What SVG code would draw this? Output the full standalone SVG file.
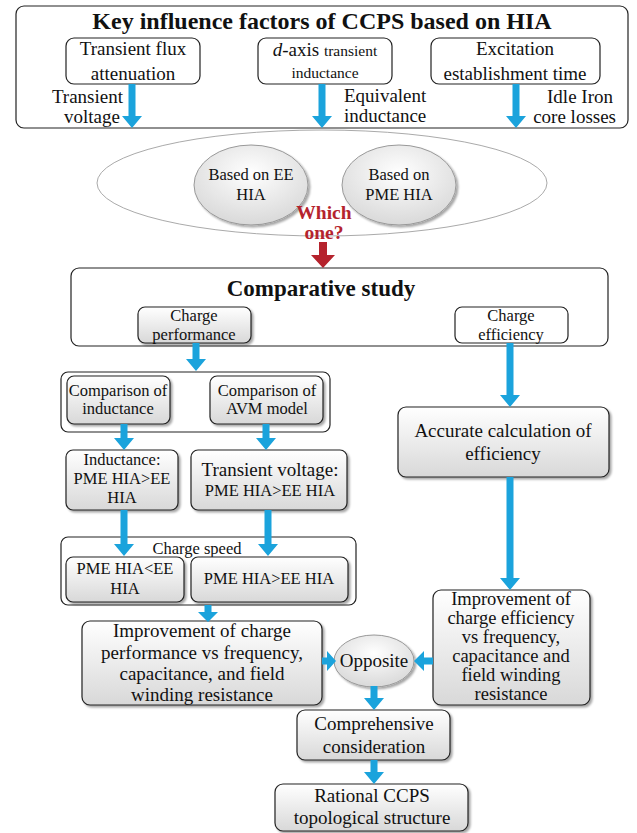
<svg xmlns="http://www.w3.org/2000/svg" width="637" height="833" viewBox="0 0 637 833" font-family="'Liberation Serif','Times New Roman',serif">
<defs>
<linearGradient id="g" x1="0" y1="0" x2="0" y2="1"><stop offset="0" stop-color="#ffffff"/><stop offset="1" stop-color="#d8d8d8"/></linearGradient>
<radialGradient id="ge" cx="0.5" cy="0.35" r="0.7"><stop offset="0" stop-color="#ffffff"/><stop offset="1" stop-color="#d6d6d6"/></radialGradient>
<filter id="sh" x="-10%" y="-10%" width="130%" height="130%"><feDropShadow dx="2" dy="2" stdDeviation="1.2" flood-color="#000" flood-opacity="0.35"/></filter>
</defs>
<style>
text{font-family:"Liberation Serif","Times New Roman",serif;fill:#111;text-anchor:middle}
.b{font-size:19px}.m{font-size:16.5px}.s{font-size:15.5px}
.title{font-size:24px;font-weight:bold}
.st{text-anchor:start}.en{text-anchor:end}
.box{fill:#fff;stroke:#222;stroke-width:1.2}
.gbox{fill:url(#g);stroke:#222;stroke-width:1.2;filter:url(#sh)}
.ell{fill:url(#ge);stroke:#999;stroke-width:1}
.arr{fill:#1ba3dc}
.red{fill:#b5232d}
</style>
<rect width="637" height="833" fill="#fff"/>

<g id="top-panel">
<rect class="box" x="16" y="6" width="612" height="122" rx="8"/>
<text class="title" x="322" y="29">Key influence factors of CCPS based on HIA</text>
</g>
<g id="n-flux">
<rect class="box" x="66" y="38" width="134" height="46" rx="8"/>
<text class="b" x="133" y="55">Transient flux</text>
<text class="b" x="133" y="80">attenuation</text>
</g>
<g id="n-daxis">
<rect class="box" x="258" y="38" width="134" height="46" rx="8"/>
<text x="325" y="56"><tspan class="b" font-style="italic">d</tspan><tspan class="b">-axis </tspan><tspan class="s">transient</tspan></text>
<text class="s" x="325" y="78">inductance</text>
</g>
<g id="n-excitation">
<rect class="box" x="431" y="38" width="169" height="46" rx="8"/>
<text class="b" x="515" y="55">Excitation</text>
<text class="b" x="515" y="80">establishment time</text>
</g>
<g id="lbl-top">
<text class="b en" x="123" y="103">Transient</text>
<text class="b en" x="120" y="123">voltage</text>
<text class="b st" x="344" y="102">Equivalent</text>
<text class="b st" x="344" y="122">inductance</text>
<text class="b en" x="613" y="103">Idle Iron</text>
<text class="b en" x="616" y="123">core losses</text>
</g>

<g id="n-hia">
<ellipse cx="322" cy="183" rx="225" ry="53" fill="#fff" stroke="#aaa" stroke-width="1"/>
</g>
<g id="n-ee">
<ellipse class="ell" cx="251" cy="185" rx="57" ry="40" filter="url(#sh)"/>
<text class="m" x="251" y="180">Based on EE</text>
<text class="m" x="251" y="200">HIA</text>
</g>
<g id="n-pme">
<ellipse class="ell" cx="399" cy="185" rx="57" ry="40" filter="url(#sh)"/>
<text class="m" x="399" y="180">Based on</text>
<text class="m" x="399" y="200">PME HIA</text>
</g>
<g id="lbl-which">
<text x="324" y="219" style="font-size:19.5px;font-weight:bold;fill:#b5232d"><tspan x="324" y="219">Which</tspan><tspan x="324" y="239">one?</tspan></text>
</g>

<g id="n-comparative">
<rect class="box" x="71" y="268" width="537" height="78" rx="8"/>
<text class="title" x="321" y="296" style="font-size:23px">Comparative study</text>
</g>
<g id="n-perf">
<rect class="gbox" x="138" y="307" width="113" height="36" rx="7"/>
<text class="m" x="194" y="321">Charge</text>
<text class="m" x="194" y="340">performance</text>
</g>
<g id="n-eff">
<rect class="box" x="455" y="307" width="113" height="36" rx="7"/>
<text class="m" x="511" y="321">Charge</text>
<text class="m" x="511" y="340">efficiency</text>
</g>

<g id="grp-compare">
<rect class="box" x="61" y="372" width="269" height="60" rx="7"/>
</g>
<g id="n-cmp-ind">
<rect class="gbox" x="67" y="376" width="103" height="48" rx="7"/>
<text class="m" x="118" y="396">Comparison of</text>
<text class="m" x="118" y="414">inductance</text>
</g>
<g id="n-cmp-avm">
<rect class="gbox" x="210" y="376" width="113" height="48" rx="7"/>
<text class="m" x="267" y="396">Comparison of</text>
<text class="m" x="267" y="414">AVM model</text>
</g>
<g id="n-ind">
<rect class="gbox" x="66" y="450" width="112" height="60" rx="7"/>
<text class="m" x="122" y="465">Inductance:</text>
<text class="m" x="122" y="484">PME HIA&gt;EE</text>
<text class="m" x="122" y="503">HIA</text>
</g>
<g id="n-tv">
<rect class="gbox" x="191" y="450" width="156" height="60" rx="7"/>
<text class="b" x="270" y="476">Transient voltage:</text>
<text class="m" x="270" y="496">PME HIA&gt;EE HIA</text>
</g>

<g id="grp-speed">
<rect class="box" x="61" y="537" width="295" height="68" rx="7"/>
<text class="m" x="197" y="554">Charge speed</text>
</g>
<g id="n-sp1">
<rect class="gbox" x="66" y="557" width="118" height="45" rx="7"/>
<text class="m" x="125" y="574">PME HIA&lt;EE</text>
<text class="m" x="125" y="594">HIA</text>
</g>
<g id="n-sp2">
<rect class="gbox" x="191" y="557" width="157" height="45" rx="7"/>
<text class="m" x="269" y="584">PME HIA&gt;EE HIA</text>
</g>

<g id="n-impr-perf">
<rect class="gbox" x="82" y="621" width="240" height="84" rx="8"/>
<text class="b" x="202" y="637">Improvement of charge</text>
<text class="b" x="202" y="659">performance vs frequency,</text>
<text class="b" x="202" y="680">capacitance, and field</text>
<text class="b" x="202" y="701">winding resistance</text>
</g>
<g id="n-opposite">
<ellipse class="ell" cx="374" cy="661" rx="40" ry="26" filter="url(#sh)"/>
<text class="b" x="374" y="667">Opposite</text>
</g>
<g id="n-acc">
<rect class="gbox" x="398" y="407" width="211" height="70" rx="8"/>
<text class="b" x="503" y="437">Accurate calculation of</text>
<text class="b" x="503" y="460">efficiency</text>
</g>
<g id="n-impr-eff">
<rect class="gbox" x="433" y="590" width="157" height="115" rx="8"/>
<text style="font-size:18.5px"><tspan x="511" y="605">Improvement of</tspan><tspan x="511" y="624">charge efficiency</tspan><tspan x="511" y="643">vs frequency,</tspan><tspan x="511" y="662">capacitance and</tspan><tspan x="511" y="681">field winding</tspan><tspan x="511" y="700">resistance</tspan></text>
</g>
<g id="n-comp">
<rect class="gbox" x="297" y="710" width="153" height="50" rx="8"/>
<text class="b" x="374" y="730">Comprehensive</text>
<text class="b" x="374" y="753">consideration</text>
</g>
<g id="n-rational">
<rect class="gbox" x="275" y="784" width="193" height="47" rx="8"/>
<text class="b" x="372" y="802">Rational CCPS</text>
<text class="b" x="372" y="824">topological structure</text>
</g>

<g id="connectors">
<path class="arr" d="M128.5,84H135.5V116H142L132,128L122,116H128.5Z"/>
<path class="arr" d="M318.5,84H325.5V116H332L322,128L312,116H318.5Z"/>
<path class="arr" d="M512.5,84H519.5V116H526L516,128L506,116H512.5Z"/>
<path class="red" d="M319,242H327V255H335L323,268L311,255H319Z"/>
<path class="arr" d="M192.5,343H199.5V359H206L196,371L186,359H192.5Z"/>
<path class="arr" d="M506.5,343H513.5V395H520L510,407L500,395H506.5Z"/>
<path class="arr" d="M120.5,424H127.5V438H134L124,450L114,438H120.5Z"/>
<path class="arr" d="M262.5,424H269.5V438H276L266,450L256,438H262.5Z"/>
<path class="arr" d="M120.5,510H127.5V544H134L124,556L114,544H120.5Z"/>
<path class="arr" d="M264.5,510H271.5V544H278L268,556L258,544H264.5Z"/>
<path class="arr" d="M204.5,605H211.5V612H218L208,622L198,612H204.5Z"/>
<path class="arr" d="M506.5,477H513.5V578H520L510,590L500,578H506.5Z"/>
<path class="arr" d="M322,657.5H327V651L336,661L327,671V664.5H322Z"/>
<path class="arr" d="M433,657.5H424V651L414,661L424,671V664.5H433Z"/>
<path class="arr" d="M370.5,686H377.5V698H384L374,710L364,698H370.5Z"/>
<path class="arr" d="M370.5,760H377.5V772H384L374,784L364,772H370.5Z"/>
</g>
</svg>
